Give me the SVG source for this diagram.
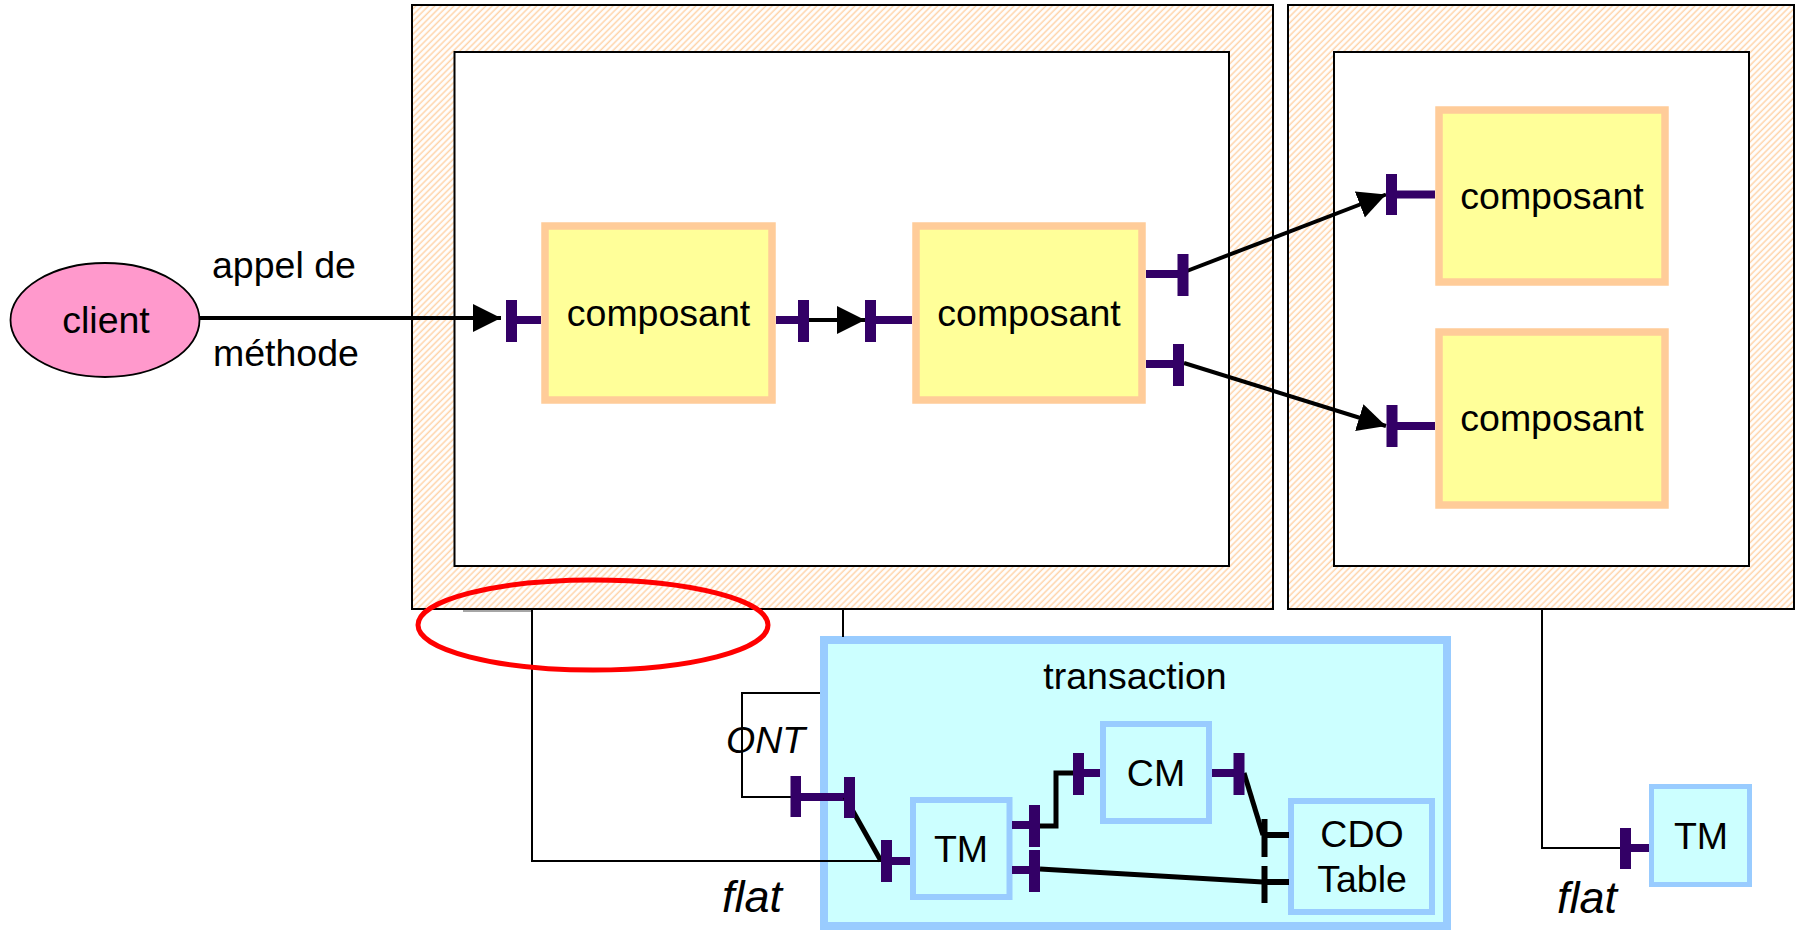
<svg xmlns="http://www.w3.org/2000/svg" width="1799" height="931" viewBox="0 0 1799 931">
<defs>
<pattern id="hatch" patternUnits="userSpaceOnUse" width="4.5" height="4.5" patternTransform="rotate(45)">
<rect width="4.5" height="4.5" fill="#ffffff"/>
<line x1="1.2" y1="0" x2="1.2" y2="4.5" stroke="#FFD3A8" stroke-width="1.5"/>
</pattern>
<marker id="arr" markerUnits="userSpaceOnUse" markerWidth="30" markerHeight="30" refX="28" refY="14" orient="auto">
<path d="M0,0 L28,14 L0,28 z" fill="#000"/>
</marker>
<style>
.cont{fill:url(#hatch);stroke:#000;stroke-width:2}
.inner{fill:#fff;stroke:#000;stroke-width:2}
.comp{fill:#FFFF99;stroke:#FFCC99;stroke-width:7.5}
.tbox{fill:#CCFFFF;stroke:#99CCFF}
.txt{font-family:"Liberation Sans",Arial,sans-serif;font-size:37.5px;fill:#000}
.mid{text-anchor:middle}
.it{font-style:italic}
.port{fill:#330066}
.stub{stroke:#330066;stroke-width:8}
.thin{fill:none;stroke:#000;stroke-width:2}
.wire{fill:none;stroke:#000;stroke-width:5}
.arrow{fill:none;stroke:#000;stroke-width:4;marker-end:url(#arr)}
</style>
</defs>
<g id="container1">
<rect class="cont" x="412" y="5" width="861" height="604"/>
<rect class="inner" x="454.5" y="52" width="774.5" height="514"/>
</g>
<g id="container2">
<rect class="cont" x="1288" y="5" width="506" height="604"/>
<rect class="inner" x="1334" y="52" width="415" height="514"/>
</g>
<g id="transaction">
<rect class="tbox" x="824" y="640" width="623" height="286" stroke-width="8"/>
<text class="txt mid" x="1135" y="689">transaction</text>
</g>
<g id="client">
<ellipse cx="105" cy="320" rx="94.5" ry="57" fill="#FF99CC" stroke="#000" stroke-width="1.8"/>
<text class="txt mid" x="106" y="333">client</text>
</g>
<g id="labels">
<text class="txt" x="212" y="278">appel de</text>
<text class="txt" x="213" y="366">méthode</text>
<text class="txt it" x="726" y="753">ONT</text>
<text class="txt it" x="722" y="912" style="font-size:45px">flat</text>
<text class="txt it" x="1557" y="913" style="font-size:45px">flat</text>
</g>
<g id="connectors">
<line class="arrow" x1="200" y1="318" x2="501" y2="318"/>
<line class="arrow" x1="800" y1="320" x2="865" y2="320"/>
<line class="arrow" x1="1179" y1="274" x2="1386" y2="194.5"/>
<line class="arrow" x1="1184" y1="363" x2="1386" y2="426"/>
<line x1="463" y1="611" x2="532" y2="611" stroke="#888" stroke-width="1.5"/>
<polyline class="thin" points="532,610 532,861 881,861"/>
<line class="thin" x1="843" y1="610" x2="843" y2="637"/>
<polyline class="thin" points="820,693 742,693 742,797 791,797"/>
<polyline class="thin" points="1542,609 1542,848 1620,848"/>
<line class="stub" x1="800" y1="797" x2="845" y2="797"/>
<line class="wire" x1="845" y1="797" x2="881" y2="861"/>
<polyline class="wire" points="1040,826 1056,826 1056,773 1073,773"/>
<line class="wire" x1="1244" y1="773" x2="1263" y2="835"/>
<line class="wire" x1="1040" y1="869" x2="1263" y2="882"/>
</g>
<g id="composant1">
<rect class="comp" x="545" y="226" width="227" height="174"/>
<text class="txt mid" x="658.5" y="326">composant</text>
<rect class="port" x="506" y="300" width="11" height="42"/>
<line class="stub" x1="517" y1="320" x2="541" y2="320"/>
<line class="stub" x1="776" y1="320" x2="798" y2="320"/>
<rect class="port" x="798" y="300" width="11" height="42"/>
</g>
<g id="composant2">
<rect class="comp" x="916" y="226" width="226" height="174"/>
<text class="txt mid" x="1029" y="326">composant</text>
<rect class="port" x="865" y="300" width="11" height="42"/>
<line class="stub" x1="876" y1="320" x2="912" y2="320"/>
<line class="stub" x1="1146" y1="274" x2="1178" y2="274"/>
<rect class="port" x="1177.5" y="254" width="11" height="42"/>
<line class="stub" x1="1146" y1="364" x2="1173" y2="364"/>
<rect class="port" x="1173" y="344" width="11" height="42"/>
</g>
<g id="composant3">
<rect class="comp" x="1439" y="110" width="226" height="172"/>
<text class="txt mid" x="1552" y="209">composant</text>
<rect class="port" x="1386" y="174" width="11" height="41"/>
<line class="stub" x1="1397" y1="194.5" x2="1435" y2="194.5"/>
</g>
<g id="composant4">
<rect class="comp" x="1439" y="332" width="226" height="173"/>
<text class="txt mid" x="1552" y="431">composant</text>
<rect class="port" x="1386.5" y="405" width="11" height="42"/>
<line class="stub" x1="1397" y1="426" x2="1435" y2="426"/>
</g>
<g id="ont-ports">
<rect class="port" x="790.5" y="776" width="10.5" height="41"/>
<rect class="port" x="844" y="777" width="11" height="41"/>
</g>
<g id="TM">
<rect class="tbox" x="913" y="800" width="96.5" height="97" stroke-width="6"/>
<text class="txt mid" x="961" y="862">TM</text>
<rect class="port" x="881" y="840" width="11" height="42"/>
<line class="stub" x1="892" y1="861" x2="910" y2="861"/>
<line class="stub" x1="1012" y1="825" x2="1029" y2="825"/>
<rect class="port" x="1029" y="805" width="11" height="42"/>
<line class="stub" x1="1012" y1="870" x2="1029" y2="870"/>
<rect class="port" x="1029" y="850" width="11" height="42"/>
</g>
<g id="CM">
<rect class="tbox" x="1103" y="724" width="106" height="97" stroke-width="6"/>
<text class="txt mid" x="1156" y="786">CM</text>
<rect class="port" x="1073" y="753" width="11" height="42"/>
<line class="stub" x1="1084" y1="773" x2="1100" y2="773"/>
<line class="stub" x1="1212" y1="773" x2="1234" y2="773"/>
<rect class="port" x="1233.5" y="753" width="11" height="42"/>
</g>
<g id="CDO">
<rect class="tbox" x="1291" y="801" width="141" height="111" stroke-width="6"/>
<text class="txt mid" x="1362" y="847">CDO</text>
<text class="txt mid" x="1362" y="892">Table</text>
<rect x="1261.5" y="819" width="6" height="38" fill="#000"/>
<line x1="1267" y1="835" x2="1289" y2="835" stroke="#000" stroke-width="6"/>
<rect x="1261.5" y="866" width="6" height="37" fill="#000"/>
<line x1="1267" y1="882" x2="1289" y2="882" stroke="#000" stroke-width="6"/>
</g>
<g id="TM2">
<rect class="tbox" x="1651.5" y="786.5" width="98" height="98" stroke-width="5"/>
<text class="txt mid" x="1701" y="849">TM</text>
<rect class="port" x="1620" y="828" width="11" height="41"/>
<line class="stub" x1="1631" y1="848" x2="1649" y2="848"/>
</g>
<g id="highlight">
<ellipse cx="593" cy="625" rx="175" ry="45" fill="none" stroke="#FF0000" stroke-width="5"/>
</g>
</svg>
